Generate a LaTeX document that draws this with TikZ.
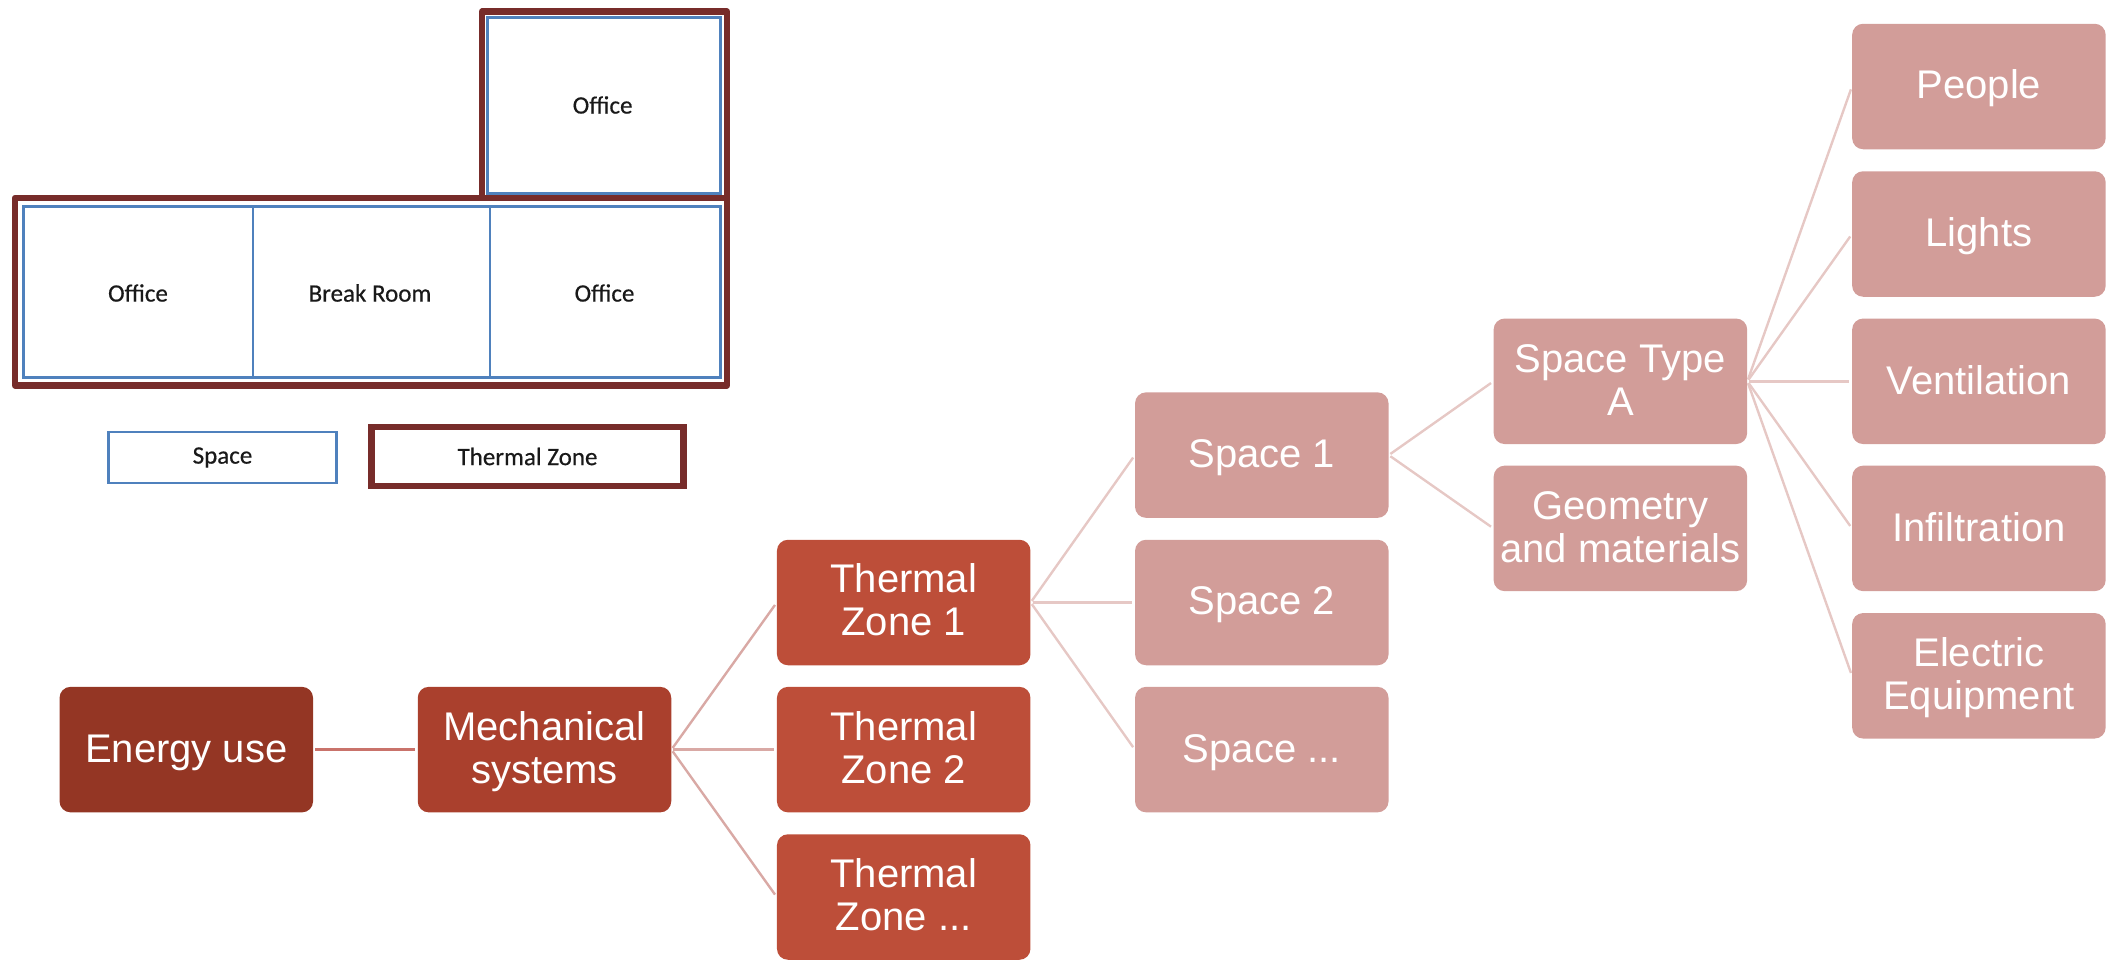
\documentclass[tikz,border=0pt]{standalone}
\usepackage{fontspec}
\setmainfont{Liberation Sans}
\newfontfamily\planfont[FakeBold=0.5]{Carlito}
\definecolor{cEnergy}{HTML}{943624}
\definecolor{cMech}{HTML}{AA402D}
\definecolor{cZone}{HTML}{BD4E39}
\definecolor{cSub}{HTML}{D29D99}
\definecolor{cLineA}{HTML}{C9736B}
\definecolor{cLineB}{HTML}{D9A9A5}
\definecolor{cLineC}{HTML}{E6C8C5}
\definecolor{cRoom}{HTML}{4F81BD}
\definecolor{cTherm}{HTML}{772C2A}
\newcommand{\tl}{\rule[-7.8pt]{0pt}{41pt}}
\newcommand{\tlz}{\rule[-8.2pt]{0pt}{40.2pt}}
\tikzset{
  x=1pt,y=-1pt,
  tree/.style={rectangle,rounded corners=11pt,minimum width=253.5pt,minimum height=125.5pt,inner sep=0pt,
    align=center,text=white,font=\fontsize{40}{43}\selectfont,draw=none},
  energybox/.style={tree,fill=cEnergy},
  mechbox/.style={tree,fill=cMech},
  zonebox/.style={tree,fill=cZone},
  subbox/.style={tree,fill=cSub},
  link/.style={line width=2.4pt,shorten >=3pt,shorten <=2pt},
  linkA/.style={link,draw=cLineA},
  linkB/.style={link,draw=cLineB},
  linkC/.style={link,draw=cLineC},
  plantext/.style={font=\planfont\fontsize{25}{28}\selectfont,text=black!90},
  room/.style={rectangle,draw=cRoom,line width=2.8pt,inner sep=0pt,align=center,fill=white,plantext},
  therm/.style={draw=cTherm,line width=6.4pt,line join=round},
  thermkey/.style={rectangle,draw=cTherm,line width=6.4pt,inner sep=0pt,align=center,plantext},
}
\begin{document}
\begin{tikzpicture}
\useasboundingbox (0,0) rectangle (2112,959);
% floor plan
\draw[therm] (482,198) -- (482,11.5) -- (727,11.5) -- (727,385.5) -- (15,385.5) -- (15,198) -- cycle;
\draw[therm] (482,198) -- (727,198);
\node[room,minimum width=233pt,minimum height=176pt] (r1) at (604,105.5) {};
\node[room,minimum width=229.5pt,minimum height=171pt] (r2) at (138.3,292.2) {};
\node[room,minimum width=237pt,minimum height=171pt] (r3) at (371.5,292.2) {};
\node[room,minimum width=230.6pt,minimum height=171pt] (r4) at (605.3,292.2) {};
\node[plantext] (t1) at (602.6,105) {Office};
\node[plantext] (t2) at (138,293) {Office};
\node[plantext] (t3) at (370,293) {Break Room};
\node[plantext] (t4) at (604.5,293) {Office};
% legend
\node[room,minimum width=227.5pt,minimum height=51pt] (kspace) at (222.5,457.5) {Space};
\node[thermkey,minimum width=312pt,minimum height=59pt] (kzone) at (527.5,456.5) {Thermal Zone};
% tree
\node[energybox] (energy) at (186.3,749.6) {\tl Energy use};
\node[mechbox] (mech) at (544.5,749.6) {\tl Mechanical\\\tl systems};
\node[zonebox] (z1) at (903.7,602.5) {\tlz Thermal\\\tlz Zone 1};
\node[zonebox] (z2) at (903.7,749.6) {\tlz Thermal\\\tlz Zone 2};
\node[zonebox] (z3) at (903.7,897) {\tlz Thermal\\\tlz Zone ...};
\node[subbox] (s1) at (1261.8,455.1) {\tl Space 1};
\node[subbox] (s2) at (1261.8,602.5) {\tl Space 2};
\node[subbox] (s3) at (1261.8,749.6) {\tl Space ...};
\node[subbox] (st) at (1620.4,381.3) {\tl Space Type\\\tl A};
\node[subbox] (geo) at (1620.4,528.4) {\tl Geometry\\\tl and materials};
\node[subbox] (p) at (1978.9,86.5) {\tl People};
\node[subbox] (l) at (1978.9,234) {\tl Lights};
\node[subbox] (v) at (1978.9,381.3) {\tl Ventilation};
\node[subbox] (i) at (1978.9,528.4) {\tl Infiltration};
\node[subbox] (e) at (1978.9,675.8) {\tl Electric\\\tl Equipment};
% connectors
\draw[linkA] (energy.east) -- (mech.west);
\foreach \c in {z1,z2,z3} \draw[linkB] (mech.east) -- (\c.west);
\foreach \c in {s1,s2,s3} \draw[linkC] (z1.east) -- (\c.west);
\foreach \c in {st,geo} \draw[linkC] (s1.east) -- (\c.west);
\foreach \c in {p,l,v,i,e} \draw[linkC] (st.east) -- (\c.west);
\end{tikzpicture}
\end{document}
